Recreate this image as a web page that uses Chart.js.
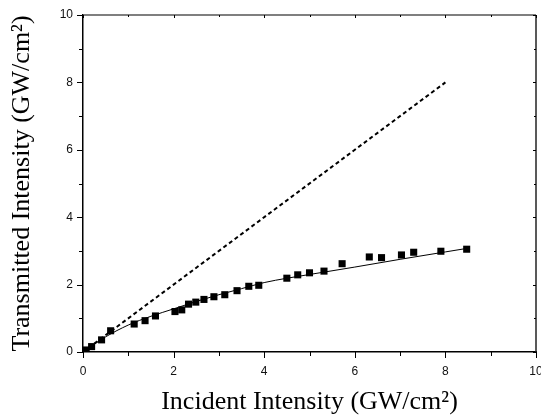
<!DOCTYPE html>
<html>
<head>
<meta charset="utf-8">
<script src="https://cdn.jsdelivr.net/npm/chart.js@4.4.1/dist/chart.umd.min.js"></script>
<style>
  html, body { margin: 0; padding: 0; background: #fff; }
  #wrap { width: 541px; height: 418px; }
</style>
</head>
<body>
<div id="wrap"><canvas id="chart" width="541" height="418"></canvas></div>
<script>
// measured points (incident vs transmitted, GW/cm2)
var incident = [0.07, 0.19, 0.41, 0.61, 1.13, 1.37, 1.60, 2.03, 2.18, 2.33, 2.49, 2.67, 2.89, 3.13, 3.40, 3.66, 3.88,
                4.50, 4.74, 5.00, 5.32, 5.72, 6.32, 6.59, 7.03, 7.30, 7.90, 8.47];
var transmitted = [0.06, 0.16, 0.36, 0.63, 0.83, 0.93, 1.07, 1.20, 1.25, 1.42, 1.48, 1.56, 1.64, 1.70, 1.82, 1.95, 1.98,
                   2.19, 2.29, 2.35, 2.40, 2.62, 2.82, 2.80, 2.88, 2.96, 2.99, 3.05];

// fitted curve
var fitX = [0, 0.25, 0.5, 1, 1.5, 2, 2.5, 3, 3.5, 4, 5, 6, 7, 8, 8.5];
var fitY = [0, 0.23, 0.45, 0.8, 1.06, 1.28, 1.5, 1.7, 1.88, 2.06, 2.3, 2.52, 2.75, 2.97, 3.08];

// linear (no absorption) reference
var linearX = [0, 8];
var linearY = [0, 8];

var majorTicks = [0, 2, 4, 6, 8, 10];
var minorTicks = [1, 3, 5, 7, 9];

function toPoints(xs, ys) {
    var pts = [];
    for (var i = 0; i < xs.length; i++) {
        pts.push({ x: xs[i], y: ys[i] });
    }
    return pts;
}

// draws the frame and the tick marks (out on left/bottom, in on top/right)
var frameTicks = {
    id: "frameTicks",
    afterDraw: function (chart) {
        var ctx = chart.ctx;
        var a = chart.chartArea;
        var xs = chart.scales.x;
        var ys = chart.scales.y;
        ctx.save();
        ctx.lineWidth = 1.5;
        ctx.strokeStyle = "#555";
        ctx.beginPath();
        ctx.moveTo(a.left, a.top);
        ctx.lineTo(a.right, a.top);
        ctx.stroke();
        ctx.strokeStyle = "#222";
        ctx.beginPath();
        ctx.moveTo(a.right, a.top);
        ctx.lineTo(a.right, a.bottom);
        ctx.stroke();

        ctx.strokeStyle = "#000";
        ctx.lineWidth = 1;
        function tick(list, len, inLen) {
            list.forEach(function (v) {
                var px = Math.round(xs.getPixelForValue(v)) + 0.5;
                var py = Math.round(ys.getPixelForValue(v)) + 0.5;
                ctx.beginPath();
                ctx.moveTo(px, a.bottom); ctx.lineTo(px, a.bottom + len);
                ctx.moveTo(px, a.top); ctx.lineTo(px, a.top + inLen);
                ctx.moveTo(a.left, py); ctx.lineTo(a.left - len, py);
                ctx.moveTo(a.right, py); ctx.lineTo(a.right - inLen, py);
                ctx.stroke();
            });
        }
        tick(majorTicks, 6, 3);
        tick(minorTicks, 4, 2);
        ctx.restore();
    }
};

var whiteBg = {
    id: "whiteBg",
    beforeDraw: function (chart) {
        var ctx = chart.ctx;
        ctx.save();
        ctx.fillStyle = "#fff";
        ctx.fillRect(0, 0, chart.width, chart.height);
        ctx.restore();
    }
};

var chart = new Chart(document.getElementById("chart"), {
    type: "scatter",
    data: {
        datasets: [{
            label: "measured",
            data: toPoints(incident, transmitted),
            pointStyle: "rect",
            pointRadius: 5,
            pointHoverRadius: 5,
            backgroundColor: "#000",
            borderColor: "#000",
            borderWidth: 0,
            order: 1
        }, {
            label: "fit",
            data: toPoints(fitX, fitY),
            showLine: true,
            pointRadius: 0,
            borderColor: "#000",
            borderWidth: 1,
            cubicInterpolationMode: "monotone",
            order: 2
        }, {
            label: "linear",
            data: toPoints(linearX, linearY),
            showLine: true,
            pointRadius: 0,
            borderColor: "#000",
            borderWidth: 2,
            borderDash: [4, 3],
            order: 3
        }]
    },
    options: {
        responsive: false,
        animation: false,
        layout: { padding: { left: 0, right: 4, top: 15, bottom: 0 } },
        plugins: {
            legend: { display: false },
            tooltip: { enabled: false }
        },
        scales: {
            x: {
                type: "linear",
                min: 0,
                max: 10,
                afterFit: function (s) { s.height = 66; s.paddingLeft = 0; s.paddingRight = 0; },
                ticks: {
                    stepSize: 2,
                    padding: 12,
                    maxRotation: 0,
                    color: "#111",
                    font: { family: "Liberation Sans", size: 12 }
                },
                grid: { drawOnChartArea: false, drawTicks: false },
                border: { color: "#000", width: 1.5 },
                title: {
                    display: true,
                    text: "Incident Intensity (GW/cm²)",
                    color: "#000",
                    font: { family: "Liberation Serif", size: 26 },
                    padding: { top: 2, bottom: 0 }
                }
            },
            y: {
                type: "linear",
                min: 0,
                max: 10,
                afterFit: function (s) { s.width = 83; s.paddingTop = 0; s.paddingBottom = 0; },
                ticks: {
                    stepSize: 2,
                    padding: 10,
                    color: "#111",
                    font: { family: "Liberation Sans", size: 12 }
                },
                grid: { drawOnChartArea: false, drawTicks: false },
                border: { color: "#000", width: 1.5 },
                title: {
                    display: true,
                    text: "Transmitted Intensity (GW/cm²)",
                    color: "#000",
                    font: { family: "Liberation Serif", size: 26 },
                    padding: { top: 7, bottom: 0 }
                }
            }
        }
    },
    plugins: [whiteBg, frameTicks]
});
</script>
</body>
</html>
